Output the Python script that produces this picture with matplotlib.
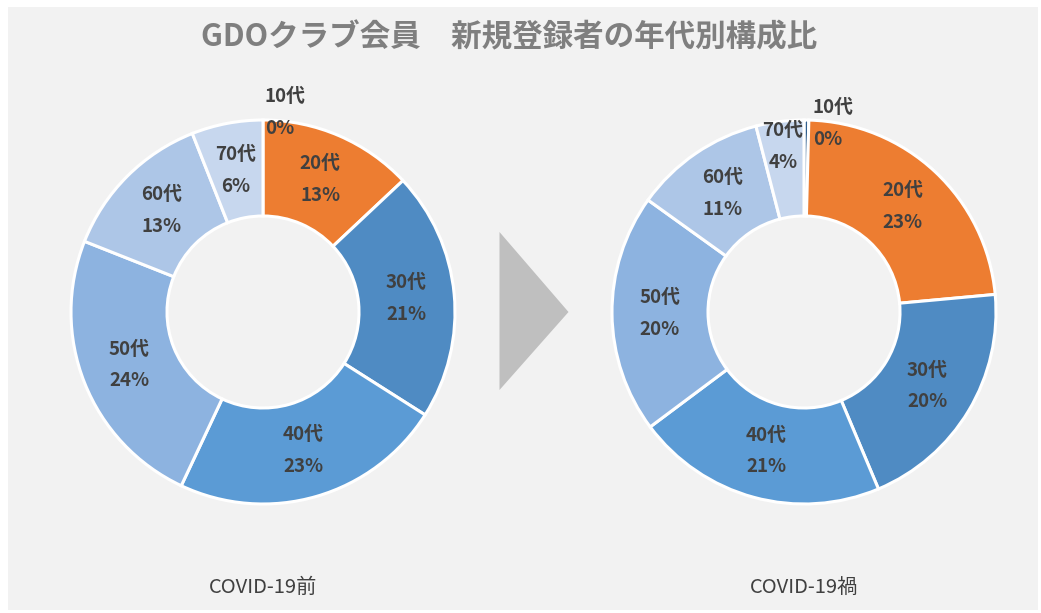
import numpy as np
import matplotlib.pyplot as plt
from matplotlib.patches import Polygon, Rectangle

plt.rcParams['font.family'] = ['Noto Sans CJK JP', 'DejaVu Sans']

# data
ages = ['10代', '20代', '30代', '40代', '50代', '60代', '70代']
before = [0.0, 13, 21, 23, 24, 13, 6]
during = [0.4, 23, 20, 21, 20, 11, 4]
colors = ['#2f5f8f', '#ed7d31', '#4f8bc3', '#5b9bd5', '#8db3e0', '#adc6e7', '#c7d7ee']
title = 'GDOクラブ会員　新規登録者の年代別構成比'
captions = ['COVID-19前', 'COVID-19禍']

W, H = 1041, 613
fig = plt.figure(figsize=(W / 100, H / 100), dpi=100)
ax = fig.add_axes([0, 0, 1, 1])
ax.set_xlim(0, W)
ax.set_ylim(0, H)
ax.set_aspect('equal')
ax.axis('off')

# grey panel
ax.add_patch(Rectangle((8, 3), W - 11, H - 10, facecolor='#f2f2f2', edgecolor='none', zorder=0))

R = 192
centers = [(263, H - 312), (804, H - 312)]
txt = '#404040'
lab_kw = dict(fontsize=13.5, color=txt, weight='bold', linespacing=1.85)


def donut(vals, c, cap):
    ax.pie(vals, colors=colors, center=c, radius=R, startangle=90, counterclock=False,
           wedgeprops=dict(width=R * 0.5, edgecolor='white', linewidth=2.2), frame=True)
    total = sum(vals)
    cum = 0
    for lab, v in zip(ages, vals):
        mid = np.deg2rad(90 - (cum + v / 2) / total * 360)
        cum += v
        s = f'{lab}\n{round(v / total * 100):.0f}%'
        if v < 1:
            # tiny slice: label sits just above the ring
            ax.text(c[0] + 2 + v * 17, c[1] + R * (1.04 - v * 0.15), s,
                    ha='left', va='center', **lab_kw)
        else:
            r = 0.87 if v < 5 else 0.75
            ax.text(c[0] + r * R * np.cos(mid), c[1] + r * R * np.sin(mid), s,
                    ha='center', va='center', **lab_kw)
    ax.text(c[0], 26, cap, ha='center', va='center', fontsize=14.5, color=txt)


donut(before, centers[0], captions[0])
donut(during, centers[1], captions[1])
ax.set_xlim(0, W)
ax.set_ylim(0, H)
ax.axis('off')

# arrow between the two charts
mx = (centers[0][0] + centers[1][0]) / 2
cy = centers[0][1]
ax.add_patch(Polygon([(mx - 34, cy + 80), (mx - 34, cy - 78), (mx + 35, cy)],
                     closed=True, facecolor='#bfbfbf', edgecolor='none'))

ax.text(W / 2 - 11, H - 37, title, ha='center', va='center', fontsize=22,
        color='#7f7f7f', weight='bold')

fig.savefig('out.png', dpi=100, facecolor='white')
